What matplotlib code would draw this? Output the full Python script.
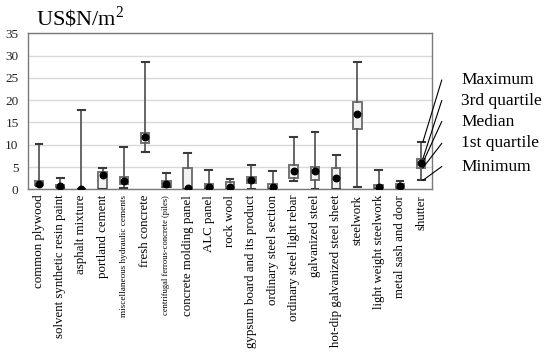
import matplotlib
matplotlib.use("Agg")
import matplotlib.pyplot as plt

categories = [
    "common plywood", "solvent synthetic resin paint", "asphalt mixture",
    "portland cement", "miscellaneous hydraulic cements", "fresh concrete",
    "centrifugal ferrous-concrete (piles)", "concrete molding panel", "ALC panel",
    "rock wool", "gypsum board and its product", "ordinary steel section",
    "ordinary steel light rebar", "galvanized steel", "hot-dip galvanized steel sheet",
    "steelwork", "light weight steelwork", "metal sash and door", "shutter",
]
minimum = [0.7, 0.4, 0.0, 0.0, 0.2, 8.4, 0.5, 0.0, 0.0, 0.0, 0.0, 0.0, 1.9, 0.0, 0.0, 0.6, 0.1, 0.2, 2.0]
q1      = [1.0, 0.6, 0.0, 0.0, 1.1, 10.5, 0.6, 0.0, 0.2, 0.1, 1.35, 0.1, 2.5, 2.0, 0.1, 13.5, 0.2, 0.3, 4.8]
median  = [1.3, 0.8, 0.0, 3.2, 1.9, 11.7, 1.25, 0.2, 0.5, 0.6, 2.1, 0.6, 4.1, 4.0, 2.6, 17.0, 0.5, 0.7, 6.0]
q3      = [1.9, 1.0, 0.0, 3.8, 2.8, 12.7, 1.9, 4.7, 1.1, 1.7, 2.7, 1.25, 5.5, 4.9, 4.7, 19.7, 1.0, 1.2, 6.8]
maximum = [10.2, 2.6, 17.8, 4.85, 9.6, 28.5, 3.7, 8.15, 4.3, 2.3, 5.45, 4.1, 11.7, 12.8, 7.8, 28.6, 4.3, 1.85, 10.6]
yticks = [0, 5, 10, 15, 20, 25, 30, 35]
legend_labels = ["Maximum", "3rd quartile", "Median", "1st quartile", "Minimum"]
small_labels = {"miscellaneous hydraulic cements": 6.6, "centrifugal ferrous-concrete (piles)": 6.1}

plt.rcParams['font.family'] = ['Liberation Serif', 'DejaVu Serif']
plt.rcParams['mathtext.fontset'] = 'custom'
plt.rcParams['mathtext.rm'] = 'Liberation Serif'

fig = plt.figure(figsize=(5.5, 3.59), dpi=100)
ax = fig.add_axes([0.0515, 0.4727, 0.7335, 0.4345])

stats = []
for i, c in enumerate(categories):
    stats.append(dict(label=c, whislo=minimum[i], q1=q1[i], med=median[i],
                      q3=q3[i], whishi=maximum[i]))

pos = list(range(len(categories)))
ax.bxp(stats, positions=pos, widths=0.4, patch_artist=True, showfliers=False,
       boxprops=dict(facecolor='#f2f2f2', edgecolor='#737373', linewidth=1.4),
       whiskerprops=dict(color='#5a5a5a', linewidth=1.3),
       capprops=dict(color='#3a3a3a', linewidth=1.5),
       medianprops=dict(linewidth=0), capwidths=0.32, zorder=3)
ax.scatter(pos, median, s=22, color='black', zorder=5)

ax.set_xlim(-0.5, len(categories) - 0.5)
ax.set_ylim(0, 35)
ax.set_yticks(yticks)
ax.yaxis.grid(True, color='#d9d9d9', linewidth=1.0)
ax.set_axisbelow(True)
ax.tick_params(axis='y', length=0, labelsize=9.5, pad=7)
ax.tick_params(axis='x', length=0, pad=4)
ax.set_xticks(pos)
ax.set_xticklabels(categories, rotation=90, va='top', ha='center')
for lbl in ax.get_xticklabels():
    lbl.set_fontsize(small_labels.get(lbl.get_text(), 9.3))
    lbl.set_color('black')
for lbl in ax.get_yticklabels():
    lbl.set_color('#222222')
for s in ax.spines.values():
    s.set_color('#7a7a7a')
    s.set_linewidth(1.0)

fig.text(0.065, 0.93, r"US\$N/m$^{2}$", fontsize=16, ha='left', va='baseline')

# legend-like annotations pointing to the last box
k = len(categories) - 1
targets = [maximum[k], q3[k], median[k], q1[k], minimum[k]]
text_y = [24.5, 19.9, 15.2, 10.3, 5.1]
line_x0 = 18.97
text_x = 19.9
for lab, ty, tgt in zip(legend_labels, text_y, targets):
    ax.plot([line_x0, k + 0.08], [ty, tgt], color='black', linewidth=0.8,
            clip_on=False, zorder=6)
    ax.text(text_x, ty, lab, fontsize=12.5, ha='left', va='center', clip_on=False)

fig.savefig("out.png", dpi=100)
